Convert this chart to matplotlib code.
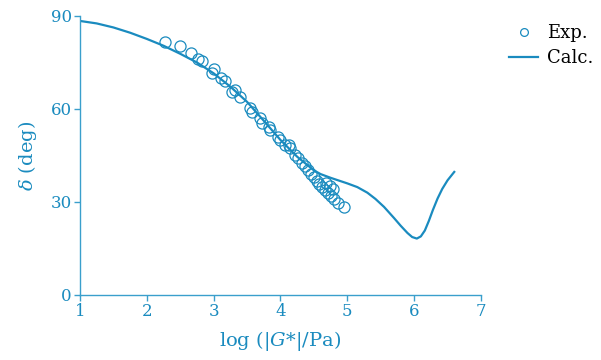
import matplotlib
matplotlib.use("Agg")
import matplotlib.pyplot as plt

# experimental points: log|G*| (Pa) and phase angle delta (deg)
exp_logG = [2.27, 2.49, 2.66, 2.76, 2.82, 3.00, 2.97, 3.11, 3.17, 3.27, 3.32, 3.39,
            3.54, 3.57, 3.69, 3.72, 3.83, 3.84, 3.97, 3.99, 4.07, 4.12, 4.14, 4.22,
            4.26, 4.32, 4.37, 4.41, 4.46, 4.50, 4.55, 4.58, 4.62, 4.67, 4.68, 4.71,
            4.74, 4.76, 4.79, 4.80, 4.86, 4.95]
exp_delta = [81.5, 80.4, 78.2, 76.0, 75.6, 72.9, 71.5, 69.9, 69.1, 65.6, 66.1, 64.0,
             60.2, 59.1, 57.0, 55.4, 54.3, 53.2, 51.1, 50.0, 48.4, 48.4, 47.4, 45.2,
             44.2, 42.6, 41.6, 40.3, 39.0, 38.1, 36.8, 35.8, 34.8, 33.9, 36.1, 32.9,
             35.2, 31.9, 34.2, 31.0, 29.7, 28.4]

# calculated curve
calc_logG = [1.0, 1.25, 1.5, 1.75, 2.0, 2.25, 2.5, 2.75, 3.0, 3.25, 3.5, 3.75, 4.0,
             4.25, 4.5, 4.6, 4.75, 5.0, 5.15, 5.3, 5.42, 5.55, 5.7, 5.8, 5.9, 5.97,
             6.04, 6.1, 6.16, 6.22, 6.28, 6.35, 6.42, 6.5, 6.6]
calc_delta = [88.4, 87.6, 86.3, 84.6, 82.6, 80.4, 77.8, 75.0, 71.5, 67.2, 62.3, 56.2, 50.0,
              44.6, 40.2, 39.0, 37.8, 36.0, 34.8, 33.0, 31.0, 28.4, 24.8, 22.3, 20.0, 18.7,
              18.2, 18.9, 20.8, 23.9, 27.4, 31.1, 34.2, 37.0, 39.7]

blue = '#1a8bbf'
axis_blue = '#3a9fcc'

plt.rcParams['font.family'] = ['DejaVu Serif']
plt.rcParams['mathtext.fontset'] = 'dejavuserif'

fig = plt.figure(figsize=(6.01, 3.6), dpi=100)
ax = fig.add_axes([0.1331, 0.1806, 0.6672, 0.775])

ax.plot(exp_logG, exp_delta, 'o', mfc='none', mec=blue, ms=8, mew=0.9, label='Exp.')
ax.plot(calc_logG, calc_delta, '-', color=blue, lw=1.6, label='Calc.')

ax.set_xlim(1, 7)
ax.set_ylim(0, 90)
ax.set_xticks(range(1, 8))
ax.set_yticks([0, 30, 60, 90])

for s in ['top', 'right']:
    ax.spines[s].set_visible(False)
for s in ['left', 'bottom']:
    ax.spines[s].set_color(axis_blue)
    ax.spines[s].set_linewidth(1.0)
ax.tick_params(direction='out', length=4, width=1.0, color=axis_blue,
               labelcolor=blue, labelsize=12, pad=2)

ax.set_xlabel(r'log (|$G$*|/Pa)', color=blue, fontsize=14, labelpad=6)
ax.set_ylabel(r'$\delta$ (deg)', color=blue, fontsize=14, labelpad=8)

leg = ax.legend(loc='upper left', bbox_to_anchor=(1.03, 1.03), frameon=False,
                fontsize=13, handlelength=1.6, handletextpad=0.5, labelspacing=0.4,
                markerscale=0.7)

fig.savefig('out.png', dpi=100, facecolor='white')
